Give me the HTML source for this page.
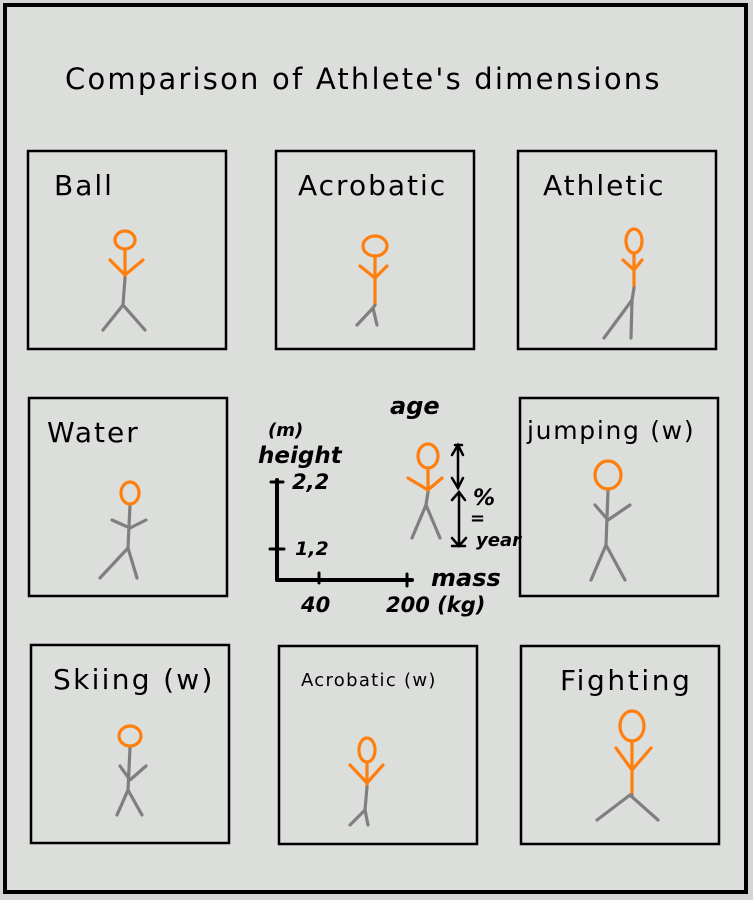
<!DOCTYPE html>
<html><head><meta charset="utf-8"><style>
html,body{margin:0;padding:0;background:#d4d6d3;}
svg{display:block;}
text{font-family:"DejaVu Sans","Liberation Sans",sans-serif;fill:#000;}
.hand{font-family:"DejaVu Sans","Liberation Sans",sans-serif;font-weight:bold;font-style:italic;}
</style></head><body>
<svg id="s" width="753" height="900" viewBox="0 0 753 900" xmlns="http://www.w3.org/2000/svg">
<rect x="5" y="5" width="741" height="887" fill="#dcdedb" stroke="#000" stroke-width="4"/>
<text x="65" y="89" font-size="29" letter-spacing="2.2">Comparison of Athlete's dimensions</text>
<g id="panels"></g>
<g stroke="#000" stroke-width="4" fill="none" stroke-linecap="round">
<line x1="277" y1="480" x2="277" y2="580"/>
<line x1="277" y1="580" x2="412" y2="580"/>
<line x1="270" y1="549" x2="284" y2="549" stroke-width="3"/>
<line x1="271" y1="482" x2="283" y2="482" stroke-width="3"/>
<line x1="319" y1="573" x2="319" y2="583" stroke-width="3"/>
<line x1="407" y1="574" x2="407" y2="586" stroke-width="3"/>
<path d="M455 445 L462 445 M458 445 L458 488 M452 478 L458 488 L463 478 M452 455 L458 445 L463 455" stroke-width="2.5"/>
<path d="M452 500 L459 492 L465 500 M459 492 L459 545 M452 538 L459 546 L466 538 M452 546 L465 546" stroke-width="2.5"/>
</g>
<g class="hand">
<text x="390" y="414" font-size="24" class="hand">age</text>
<text x="268" y="436" font-size="18" class="hand">(m)</text>
<text x="258" y="463" font-size="23" class="hand">height</text>
<text x="292" y="489" font-size="21" class="hand">2,2</text>
<text x="295" y="555" font-size="19" class="hand">1,2</text>
<text x="301" y="612" font-size="21" class="hand">40</text>
<text x="386" y="612" font-size="21" class="hand">200 (kg)</text>
<text x="431" y="586" font-size="24" class="hand">mass</text>
<text x="473" y="505" font-size="22" class="hand">%</text>
<text x="470" y="524" font-size="18" class="hand">=</text>
<text x="476" y="546" font-size="18" class="hand">year</text>
</g>
<g id="center-fig"></g>
</svg>
<script>
const names=["Ball","Acrobatic","Athletic","Water","jumping (w)","Skiing (w)","Acrobatic (w)","Fighting"];
const boxX=[28,276,518,29,520,31,279,521];
const boxY=[151,151,151,398,398,645,646,646];
const titleX=[54,298,543,47,527,53,301,560];
const titleSize=[28,28,28,28,25,28,18,28];
const titleSpacing=[2,2,2,2,1.7,2.3,1.3,2.6];
const headX=[125,375,634,130,608,130,367,632];
const headY=[240,246,241,493,475,736,750,726];
const headRX=[10,12,8,9,13,11,8,12];
const headRY=[9,10,12,11,14,10,12,15];
const armY=[260,266,260,520,505,766,765,748];
const armL=[110,360,623,112,595,120,350,616];
const armR=[143,387,642,146,630,146,383,651];
const joinY=[275,278,270,528,520,780,783,770];
const splitY=[278,305,288,505,490,748,787,795];
const hipY=[305,308,300,548,545,790,810,795];
const footY=[330,325,338,578,580,815,825,820];
const footL=[103,357,604,100,591,117,350,597];
const footR=[145,377,631,137,625,142,368,658];
const svgNS="http://www.w3.org/2000/svg";
function mk(tag,attrs,parent){const e=document.createElementNS(svgNS,tag);for(const k in attrs)e.setAttribute(k,attrs[k]);parent.appendChild(e);return e;}
function figure(g,i,hx,hy){
  const O="#ff7f0e",G="#7f7f7f";
  const st={fill:"none","stroke-width":3.2,"stroke-linecap":"round","stroke-linejoin":"round"};
  const neck=hy+headRY[i];
  const cs=(y)=> splitY[i]>=y?O:G;
  const torso1=mk("path",Object.assign({d:`M${hx} ${neck} L${hx} ${splitY[i]}`,stroke:O},st),g);
  
  
  const torso2=mk("path",Object.assign({d:`M${hx} ${splitY[i]} L${hx-2} ${hipY[i]}`,stroke:G},st),g);
  
  
  const arms=mk("path",Object.assign({d:`M${armL[i]} ${armY[i]} L${hx} ${joinY[i]} L${armR[i]} ${armY[i]}`,stroke:cs(joinY[i])},st),g);
  
  
  const legs=mk("path",Object.assign({d:`M${footL[i]} ${footY[i]} L${hx-2} ${hipY[i]} L${footR[i]} ${footY[i]}`,stroke:G},st),g);
  
  
  const head=mk("ellipse",Object.assign({cx:hx,cy:hy,rx:headRX[i],ry:headRY[i],stroke:O},st),g);
  
  
}
const P=document.getElementById("panels");
names.forEach((n,i)=>{
  const g=mk("g",{},P);
  
  
  const r=mk("rect",{x:boxX[i],y:boxY[i],width:198,height:198,fill:"#dcdedb",stroke:"#000","stroke-width":2.5},g);
  
  
  const t=mk("text",{x:titleX[i],y:boxY[i]+(titleSize[i]<20?40:titleSize[i]+16),"font-size":titleSize[i],"letter-spacing":titleSpacing[i]},g);
  t.textContent=n;
  
  
  const f=mk("g",{},g);
  
  
  figure(f,i,headX[i],headY[i]);
});
headX.push(428);headY.push(456);headRX.push(10);headRY.push(12);
armY.push(478);armL.push(408);armR.push(442);joinY.push(490);splitY.push(492);
hipY.push(505);footY.push(538);footL.push(412);footR.push(440);
const C=document.getElementById("center-fig");


figure(C,8,428,456);
</script>
</body></html>
